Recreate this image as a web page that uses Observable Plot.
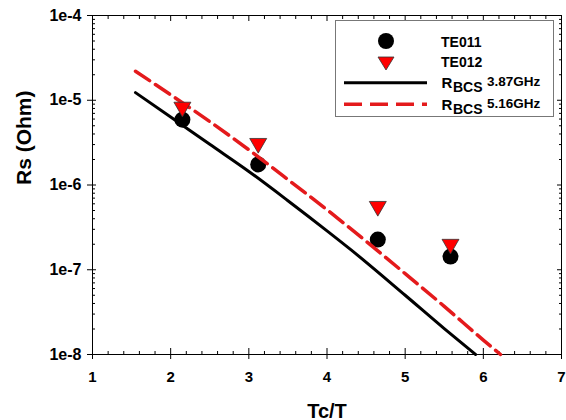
<!DOCTYPE html>
<html>
<head>
<meta charset="utf-8">
<script src="https://cdn.jsdelivr.net/npm/d3@7"></script>
<script src="https://cdn.jsdelivr.net/npm/@observablehq/plot@0.6"></script>
<style>
  html, body { margin: 0; padding: 0; background: #fff; }
  #wrap { position: relative; width: 566px; height: 420px; font-family: "Liberation Sans", Arial, sans-serif; }
  #legend { position: absolute; left: 0; top: 0; pointer-events: none; }
</style>
</head>
<body>
<div id="wrap"></div>
<script>
// ---- data ----
const te011X  = [2.15, 3.12, 4.65, 5.58];
const te011Rs = [5.9e-6, 1.75e-6, 2.27e-7, 1.43e-7];

const te012X  = [2.15, 3.12, 4.65, 5.58];
const te012Rs = [8.3e-6, 3.1e-6, 5.6e-7, 2.0e-7];

const bcs387X  = [1.55, 2.0, 2.5, 3.0, 3.5, 4.0, 4.3, 5.0, 5.5, 5.9];
const bcs387Rs = [1.23e-5, 6.34e-6, 3.02e-6, 1.445e-6, 6.53e-7, 2.88e-7, 1.74e-7, 5.0e-8, 2.02e-8, 1.0e-8];

const bcs516X  = [1.55, 2.0, 2.5, 3.0, 3.5, 4.0, 4.5, 5.0, 5.5, 6.0, 6.22];
const bcs516Rs = [2.2e-5, 1.16e-5, 5.6e-6, 2.6e-6, 1.16e-6, 5.1e-7, 2.17e-7, 9.0e-8, 3.7e-8, 1.48e-8, 1.0e-8];

const xMajor = [1, 2, 3, 4, 5, 6, 7];
const xMinor = d3.range(1, 7.001, 0.2).map(v => +v.toFixed(1)).filter(v => !Number.isInteger(v));
const yMajor = [1e-8, 1e-7, 1e-6, 1e-5, 1e-4];
const yMinor = [1e-8, 1e-7, 1e-6, 1e-5].flatMap(d => [2,3,4,5,6,7,8,9].map(m => +(m * d).toPrecision(2)));
const yTickLabels = ["1e-8", "1e-7", "1e-6", "1e-5", "1e-4"];

const xLabel = "Tc/T";
const yLabel = "Rs (Ohm)";

const toRows = (xs, ys) => xs.map((x, i) => ({x, y: ys[i]}));

const chart = Plot.plot({
  width: 566,
  height: 420,
  marginLeft: 92,
  marginRight: 5,
  marginTop: 15,
  marginBottom: 66,
  style: {fontFamily: "'Liberation Sans', Arial, sans-serif", color: "black", background: "white", overflow: "visible"},
  x: {type: "linear", domain: [1, 7]},
  y: {type: "log", domain: [1e-8, 1e-4]},
  marks: [
    Plot.frame({stroke: "black", strokeWidth: 1}),
    // bottom axis
    Plot.axisX({anchor: "bottom", ticks: xMajor, tickSize: 0, tickPadding: 17, tickFormat: d => String(d), label: null, fontSize: 15, fontWeight: "bold", fill: "black"}),
    Plot.axisX({anchor: "bottom", ticks: xMajor, text: null, tickSize: 11, dy: -6, label: null}),
    Plot.axisX({anchor: "bottom", ticks: xMinor, text: null, tickSize: 3, dy: -3, label: null}),
    // top axis (inward ticks)
    Plot.axisX({anchor: "top", ticks: xMajor, text: null, tickSize: 5, dy: 5, label: null}),
    Plot.axisX({anchor: "top", ticks: xMinor, text: null, tickSize: 3, dy: 3, label: null}),
    // left axis
    Plot.axisY({anchor: "left", ticks: yMajor, tickSize: 0, tickPadding: 11, tickFormat: d => yTickLabels[yMajor.indexOf(d)], label: null, fontSize: 16, fontWeight: "bold", fill: "black"}),
    Plot.axisY({anchor: "left", ticks: yMajor, text: null, tickSize: 9, dx: 4, label: null}),
    Plot.axisY({anchor: "left", ticks: yMinor, text: null, tickSize: 3, dx: 3, label: null}),
    // right axis (inward ticks)
    Plot.axisY({anchor: "right", ticks: yMajor, text: null, tickSize: 5, dx: -5, label: null}),
    Plot.axisY({anchor: "right", ticks: yMinor, text: null, tickSize: 3, dx: -3, label: null}),
    // axis titles
    Plot.text([xLabel], {frameAnchor: "bottom", dy: 63, lineAnchor: "bottom", text: d => d, fontSize: 20, fontWeight: "bold", fill: "black"}),
    Plot.text([yLabel], {frameAnchor: "left", dx: -62, lineAnchor: "bottom", rotate: -90, text: d => d, fontSize: 21, fontWeight: "bold", fill: "black"}),
    // data
    Plot.line(toRows(bcs387X, bcs387Rs), {x: "x", y: "y", stroke: "black", strokeWidth: 3, curve: "monotone-x"}),
    Plot.dot(toRows(te011X, te011Rs), {x: "x", y: "y", r: 8, fill: "black", stroke: "none", symbol: "circle"}),
    Plot.line(toRows(bcs516X, bcs516Rs), {x: "x", y: "y", stroke: "#e41a1c", strokeWidth: 3.5, strokeDasharray: "17,7", curve: "monotone-x"}),
    Plot.dot(toRows(te012X, te012Rs), {x: "x", y: "y", r: 6.3, fill: "#ff0000", stroke: "#333", strokeWidth: 0.8, symbol: "triangle", rotate: 180})
  ]
});

const wrap = document.getElementById("wrap");
wrap.appendChild(chart);

// legend overlay inside the plot area
const lg = d3.select(wrap).append("svg").attr("id", "legend").attr("width", 566).attr("height", 420)
  .style("font-family", "'Liberation Sans', Arial, sans-serif").style("font-weight", "bold");
lg.append("rect").attr("x", 335.5).attr("y", 20.5).attr("width", 218).attr("height", 96)
  .attr("fill", "white").attr("stroke", "#777").attr("stroke-width", 1);
lg.append("circle").attr("cx", 386).attr("cy", 41).attr("r", 8).attr("fill", "black");
lg.append("path").attr("d", "M378,57L394,57L386,70Z").attr("fill", "#ff0000").attr("stroke", "#333").attr("stroke-width", 0.8);
lg.append("line").attr("x1", 344).attr("x2", 427).attr("y1", 82.7).attr("y2", 82.7).attr("stroke", "black").attr("stroke-width", 3);
lg.append("line").attr("x1", 344).attr("x2", 427).attr("y1", 104.3).attr("y2", 104.3).attr("stroke", "#e41a1c").attr("stroke-width", 3.5).attr("stroke-dasharray", "18,8");
const names = ["TE011", "TE012"];
lg.append("text").attr("x", 441).attr("y", 46.5).attr("font-size", 14).text(names[0]);
lg.append("text").attr("x", 441).attr("y", 67).attr("font-size", 14).text(names[1]);
const freqs = ["3.87GHz", "5.16GHz"];
[88.3, 110].forEach((base, i) => {
  lg.append("text").attr("x", 441.5).attr("y", base).attr("font-size", 15).text("R");
  lg.append("text").attr("x", 453).attr("y", base + 3.5).attr("font-size", 14).text("BCS");
  lg.append("text").attr("x", 487).attr("y", base - 2.5).attr("font-size", 13.5).text(freqs[i]);
});
</script>
</body>
</html>
